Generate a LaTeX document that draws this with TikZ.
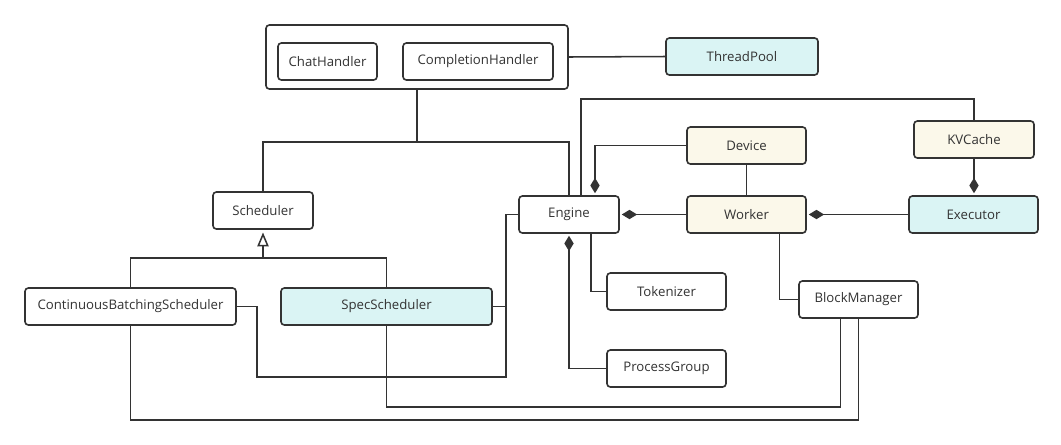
\documentclass[tikz,border=0pt]{standalone}
\usepackage{fontspec}
\setmainfont{Open Sans}
\usetikzlibrary{arrows.meta}
\definecolor{ink}{HTML}{333333}
\definecolor{cyanfill}{HTML}{DAF4F4}
\definecolor{creamfill}{HTML}{FBF8EA}
\begin{document}
\begin{tikzpicture}[x=0.75pt,y=-0.75pt,
  box/.style={draw=ink, line width=1.2pt, rounded corners=2.5pt, fill=white,
    minimum height=27.75pt, inner sep=0pt, text=ink, font=\fontsize{9.9}{11}\selectfont},
  svc/.style={box, fill=cyanfill},
  hw/.style={box, fill=creamfill},
  link/.style={draw=ink, line width=1.15pt},
  owns/.style={link, shorten >=1.5pt, -{Diamond[length=11.5pt,width=7pt,fill=ink]}},
  owned/.style={link, shorten <=1.5pt, {Diamond[length=11.5pt,width=7pt,fill=ink]}-},
  isa/.style={link, shorten >=2pt, -{Triangle[open,length=10.5pt,width=8.5pt,fill=white]}}]
\useasboundingbox (0,0) rectangle (1061,444);
\fill[white] (0,0) rectangle (1061,444);

% request handlers and the thread pool
\node[box, minimum width=226.5pt, minimum height=48pt] (handlers) at (417,57) {};
\node[box, minimum width=74.25pt] (chat) at (327.5,61.5) {ChatHandler};
\node[box, minimum width=112.5pt] (completion) at (478,61.5) {CompletionHandler};
\node[svc, minimum width=114pt] (pool) at (742,56.5) {ThreadPool};

% core components
\node[box, minimum width=75pt] (sched) at (263,210.5) {Scheduler};
\node[box, minimum width=75pt] (engine) at (569,214.5) {Engine};
\node[hw, minimum width=89.25pt] (device) at (746.5,145.5) {Device};
\node[hw, minimum width=90pt] (kvcache) at (974,139.5) {KVCache};
\node[hw, minimum width=89.25pt] (worker) at (746.5,214.5) {Worker};
\node[svc, minimum width=96.75pt] (executor) at (973.5,214.5) {Executor};
\node[box, minimum width=89.25pt] (tokenizer) at (666.5,291.5) {Tokenizer};
\node[box, minimum width=89.25pt] (procgroup) at (666.5,368.5) {ProcessGroup};
\node[box, minimum width=89.25pt] (blockmgr) at (858.5,299.5) {BlockManager};
\node[box, minimum width=158.25pt] (cbs) at (130.5,306.5) {ContinuousBatchingScheduler};
\node[svc, minimum width=158.25pt] (spec) at (386.5,306.5) {SpecScheduler};

% junction points
\coordinate (hj) at (417,142);
\coordinate (topy) at (0,99);
\coordinate (inh) at (263,258);
\coordinate (bus) at (506,377);

% handlers
\draw[link] (handlers.east) -- (pool.west);
\draw[link] (handlers.south) -- (hj);
\draw[link] (sched.north) |- (hj) -| (engine.north);

% engine and its parts
\draw[link] ([xshift=9pt]engine.north) |- (topy -| kvcache.north) -- (kvcache.north);
\draw[owns] (device.west) -| ([xshift=19.5pt]engine.north);
\draw[link] (device.south) -- (worker.north);
\draw[owns] (worker.west) -- (engine.east);
\draw[owns] (executor.west) -- (worker.east);
\draw[owns] (kvcache.south) -- (kvcache.south |- executor.north);
\draw[owned] (engine.south) |- (procgroup.west);
\draw[link] ([xshift=16.5pt]engine.south) |- (tokenizer.west);
\draw[link] ([xshift=24.75pt]worker.south) |- (blockmgr.west);

% scheduler hierarchy
\draw[link] (cbs.north) |- (inh) -| (spec.north);
\draw[isa] (inh) -- (sched.south);

% schedulers to engine and block manager
\draw[link] (cbs.east) -- ++(20,0) |- (bus) |- (engine.west);
\draw[link] (spec.east) -- (spec.east -| bus);
\draw[link] (spec.south) -- ++(0,81) -| ([xshift=-13.5pt]blockmgr.south);
\draw[link] (cbs.south) -- ++(0,94) -| (blockmgr.south);
\end{tikzpicture}
\end{document}
